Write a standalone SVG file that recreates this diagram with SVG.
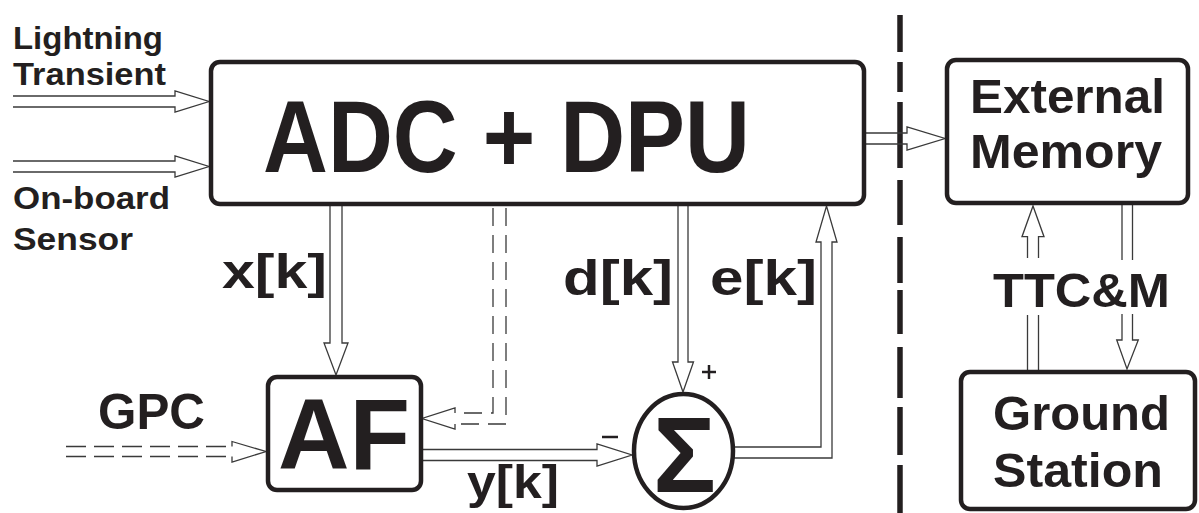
<svg xmlns="http://www.w3.org/2000/svg" width="1199" height="513" viewBox="0 0 1199 513">
<style>
  .box { fill: #fff; stroke: #231f20; stroke-width: 4.5; }
  .t { font-family: "Liberation Sans", Arial, sans-serif; font-weight: bold; fill: #231f20; }
  .ln { fill: none; stroke: #3a3a3a; stroke-width: 1.3; stroke-linejoin: miter; }
  .dl { fill: none; stroke: #3a3a3a; stroke-width: 1.3; stroke-dasharray: 20 8; }
  .dv { fill: none; stroke: #3a3a3a; stroke-width: 1.3; stroke-dasharray: 18 9; }
  .sep { stroke: #231f20; stroke-width: 5.5; stroke-linecap: butt; }
  .sign { stroke: #231f20; stroke-width: 2.5; }
</style>
<rect width="1199" height="513" fill="#fff"/>

<!-- separator -->
<g id="separator">
  <line class="sep" x1="900" y1="15" x2="900" y2="52"/>
  <line class="sep" x1="900" y1="62" x2="900" y2="92"/>
  <line class="sep" x1="900" y1="102" x2="900" y2="168"/>
  <line class="sep" x1="900" y1="180" x2="900" y2="225"/>
  <line class="sep" x1="900" y1="237" x2="900" y2="283"/>
  <line class="sep" x1="900" y1="290" x2="900" y2="334"/>
  <line class="sep" x1="900" y1="347" x2="900" y2="398"/>
  <line class="sep" x1="900" y1="407" x2="900" y2="455"/>
  <line class="sep" x1="900" y1="465" x2="900" y2="513"/>
</g>

<g id="connectors">
  <!-- Lightning transient input -->
  <path class="ln" d="M13,96 H175 V91 L209,101.5 L175,112 V107 H13"/>
  <!-- On-board sensor input -->
  <path class="ln" d="M13,161 H175 V156 L209,166.5 L175,177 V172 H13"/>
  <!-- ADC -> External Memory -->
  <path class="ln" d="M866,133 H907 V127 L945,138.5 L907,150 V144 H866"/>
  <!-- x[k] -->
  <path class="ln" d="M330,206 V343 H324 L336,375 L348,343 H342 V206"/>
  <!-- d[k] -->
  <path class="ln" d="M678,206 V362 H672.5 L683,392 L693.5,362 H688 V206"/>
  <!-- y[k] -->
  <path class="ln" d="M423,449.5 H597 V444 L632,455 L597,466 V460.5 H423"/>
  <!-- e[k] -->
  <path class="ln" d="M733,447 H821 V242 H816 L826.5,206 L837,242 H832 V458 H733"/>
  <!-- internal routing inside DPU -->
  <path class="ln" d="M499,204 V193 H826.5 V206"/>
  <!-- dashed feedback to AF -->
  <path class="dv" d="M493,208 V413 H455"/>
  <path class="dv" d="M506,208 V424 H455"/>
  <path class="ln" d="M455,413 V408 L422,418.5 L455,429 V424"/>
  <!-- GPC dashed input -->
  <path class="dl" d="M66,446.5 H232"/>
  <path class="dl" d="M66,456.5 H232"/>
  <path class="ln" d="M232,446.5 V441.5 L266,451.5 L232,462 V456.5"/>
  <!-- Ground -> External Memory (up) -->
  <path class="ln" d="M1027.5,370 V315 M1038.5,370 V315"/>
  <path class="ln" d="M1027.5,258 V236.7 H1022 L1033,206 L1044,236.7 H1038.5 V258"/>
  <!-- External Memory -> Ground (down) -->
  <path class="ln" d="M1122,205 V260 M1132.5,205 V260"/>
  <path class="ln" d="M1122,314 V340 H1116.7 L1127,369 L1138.3,340 H1132.5 V314"/>
</g>

<g id="adc">
  <rect class="box" x="211" y="62" width="653" height="142" rx="9"/>
  <text class="t" x="263" y="172" font-size="102" textLength="487" lengthAdjust="spacingAndGlyphs">ADC + DPU</text>
</g>

<g id="af">
  <rect class="box" x="268" y="377" width="153" height="113" rx="9"/>
  <text class="t" x="278" y="469" font-size="100" textLength="132" lengthAdjust="spacingAndGlyphs">AF</text>
</g>

<g id="sum">
  <ellipse class="box" cx="683.5" cy="451" rx="49.5" ry="57"/>
  <text class="t" x="684.5" y="492" font-size="108" text-anchor="middle" textLength="63" lengthAdjust="spacingAndGlyphs">Σ</text>
  <line class="sign" x1="702" y1="372" x2="716" y2="372"/>
  <line class="sign" x1="709" y1="365" x2="709" y2="379"/>
  <line class="sign" x1="602" y1="437" x2="618" y2="437" stroke-width="3"/>
</g>

<g id="extmem">
  <rect class="box" x="947" y="60" width="241" height="143" rx="9"/>
  <text class="t" x="970" y="113" font-size="49" textLength="195" lengthAdjust="spacingAndGlyphs">External</text>
  <text class="t" x="970" y="168" font-size="49" textLength="192" lengthAdjust="spacingAndGlyphs">Memory</text>
</g>

<g id="ground">
  <rect class="box" x="961" y="372" width="234" height="137" rx="9"/>
  <text class="t" x="993" y="430" font-size="49" textLength="177" lengthAdjust="spacingAndGlyphs">Ground</text>
  <text class="t" x="993" y="487" font-size="49" textLength="170" lengthAdjust="spacingAndGlyphs">Station</text>
</g>

<g id="labels">
  <text class="t" x="13" y="49" font-size="31" textLength="150" lengthAdjust="spacingAndGlyphs">Lightning</text>
  <text class="t" x="13" y="85" font-size="31" textLength="153" lengthAdjust="spacingAndGlyphs">Transient</text>
  <text class="t" x="13" y="209" font-size="31" textLength="157" lengthAdjust="spacingAndGlyphs">On-board</text>
  <text class="t" x="13" y="250" font-size="31" textLength="120" lengthAdjust="spacingAndGlyphs">Sensor</text>
  <text class="t" x="222" y="288" font-size="48" textLength="105" lengthAdjust="spacingAndGlyphs">x[k]</text>
  <text class="t" x="563" y="295" font-size="50" textLength="110" lengthAdjust="spacingAndGlyphs">d[k]</text>
  <text class="t" x="710" y="295" font-size="50" textLength="107" lengthAdjust="spacingAndGlyphs">e[k]</text>
  <text class="t" x="98" y="429" font-size="50" textLength="107" lengthAdjust="spacingAndGlyphs">GPC</text>
  <text class="t" x="467" y="498" font-size="46" textLength="92" lengthAdjust="spacingAndGlyphs">y[k]</text>
  <text class="t" x="993" y="307" font-size="49" textLength="177" lengthAdjust="spacingAndGlyphs">TTC&amp;M</text>
</g>
</svg>
